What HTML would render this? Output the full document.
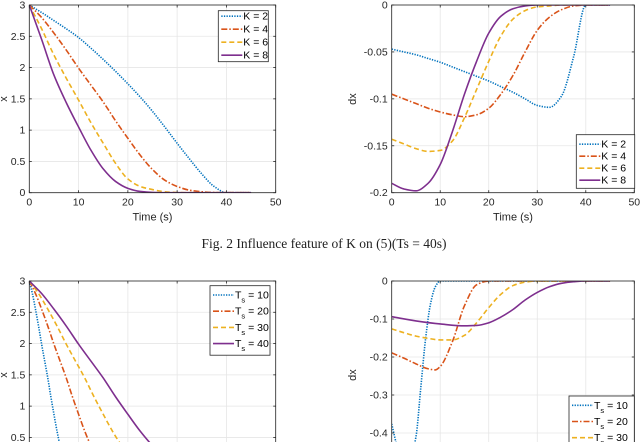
<!DOCTYPE html>
<html><head><meta charset="utf-8"><style>
html,body{margin:0;padding:0;background:#fff;width:640px;height:442px;overflow:hidden;}
svg{display:block;font-family:"Liberation Sans",Arial,sans-serif;overflow:hidden;}
</style></head><body>
<svg id="fig" width="640" height="442" viewBox="0 0 640 442" xmlns="http://www.w3.org/2000/svg">
<text x="324" y="248" text-anchor="middle" font-family="Liberation Serif, serif" font-size="13.5" fill="#222">Fig. 2 Influence feature of K on  (5)(Ts = 40s)</text>
</svg>
<script>
// ---- Data: top-left x(t) for K ----
const tK = [0,2.5,5,7.5,10,12.5,15,17.5,20,22.5,25,27.5,30,32.5,35,37.5,40,42.5,45];
const xK2 = [3,2.88,2.75,2.62,2.48,2.31,2.13,1.94,1.74,1.53,1.3,1.05,0.79,0.54,0.3,0.1,0.0,0,0];
const xK4 = [3,2.8,2.55,2.28,1.99,1.72,1.45,1.15,0.87,0.6,0.37,0.2,0.1,0.04,0.015,0.003,0,0,0];
const xK6 = [3,2.62,2.2,1.83,1.48,1.12,0.79,0.47,0.22,0.1,0.05,0.015,0.003,0,0,0,0,0,0];
const xK8 = [3,2.45,1.88,1.44,1.05,0.68,0.38,0.18,0.07,0.02,0.004,0,0,0,0,0,0,0,0];
// ---- Data: top-right dx(t) for K ----
const dK2 = [-0.047,-0.05,-0.053,-0.057,-0.061,-0.066,-0.071,-0.076,-0.081,-0.087,-0.093,-0.1,-0.107,-0.109,-0.097,-0.055,0,0,0];
const dK4 = [-0.095,-0.1,-0.105,-0.11,-0.114,-0.117,-0.119,-0.117,-0.11,-0.095,-0.075,-0.05,-0.027,-0.013,-0.005,-0.001,0,0,0];
const dK6 = [-0.143,-0.148,-0.153,-0.156,-0.155,-0.145,-0.12,-0.09,-0.06,-0.033,-0.015,-0.006,-0.002,-0.001,0,0,0,0,0];
const dK8 = [-0.19,-0.196,-0.198,-0.19,-0.17,-0.135,-0.095,-0.06,-0.03,-0.012,-0.004,-0.001,0,0,0,0,0,0,0];
// ---- Data: bottom-left x(t) for Ts ----
const tT10 = [0,0.625,1.25,1.875,2.5,3.125,3.75,4.375,5,5.625,6.25,6.875,7.5,8.125,8.75,9.375,10,45];
const xT10 = [3,2.8,2.55,2.28,1.99,1.72,1.45,1.15,0.87,0.6,0.37,0.2,0.1,0.04,0.015,0.003,0,0];
const tT20 = [0,1.25,2.5,3.75,5,6.25,7.5,8.75,10,11.25,12.5,13.75,15,16.25,17.5,18.75,20,45];
const xT20 = [3,2.8,2.55,2.28,1.99,1.72,1.45,1.15,0.87,0.6,0.37,0.2,0.1,0.04,0.015,0.003,0,0];
const tT30 = [0,1.875,3.75,5.625,7.5,9.375,11.25,13.125,15,16.875,18.75,20.625,22.5,24.375,26.25,28.125,30,45];
const xT30 = [3,2.8,2.55,2.28,1.99,1.72,1.45,1.15,0.87,0.6,0.37,0.2,0.1,0.04,0.015,0.003,0,0];
const tT40 = [0,2.5,5,7.5,10,12.5,15,17.5,20,22.5,25,27.5,30,32.5,35,37.5,40,45];
const xT40 = [3,2.8,2.55,2.28,1.99,1.72,1.45,1.15,0.87,0.6,0.37,0.2,0.1,0.04,0.015,0.003,0,0];
// ---- Data: bottom-right dx(t) for Ts ----
const tD10 = [0,1,2,3,4,5,6,7,8,9,10,45];
const dT10 = [-0.376,-0.43,-0.47,-0.48,-0.46,-0.41,-0.28,-0.15,-0.06,-0.015,0,0];
const tD20 = [0,2.5,5,7.5,9,10,12.5,15,17.5,20,45];
const dT20 = [-0.189,-0.203,-0.218,-0.231,-0.234,-0.225,-0.16,-0.065,-0.01,0,0];
const tD30 = [0,2.5,5,7.5,10,12.5,15,17.5,20,22.5,25,27.5,30,45];
const dT30 = [-0.126,-0.136,-0.145,-0.151,-0.155,-0.155,-0.143,-0.11,-0.07,-0.035,-0.012,-0.003,0,0];
const tD40 = [0,5,10,15,17.5,20,22.5,25,27.5,30,32.5,35,37.5,40,45];
const dT40 = [-0.094,-0.105,-0.113,-0.118,-0.117,-0.11,-0.095,-0.075,-0.05,-0.03,-0.015,-0.006,-0.002,0,0];
// ---- Axis ticks ----
const xTicks = [0,10,20,30,40,50];
const yTicksX = [0,0.5,1,1.5,2,2.5,3];
const yTicksTR = [-0.2,-0.15,-0.1,-0.05,0];
const yTicksBR = [-0.4,-0.3,-0.2,-0.1,0];
const yLabelsTR = ['-0.2','-0.15','-0.1','-0.05','0'];
const yLabelsBR = ['-0.4','-0.3','-0.2','-0.1','0'];
const kLabels = ['K = 2','K = 4','K = 6','K = 8'];
const tsLabels = ['10','20','30','40'];

const NS='http://www.w3.org/2000/svg';
const svg=document.getElementById('fig');
const COLORS=['#0072BD','#D95319','#EDB120','#7E2F8E'];
const DASH=['1.3 1.3','6 2 1.5 2','5 3',''];
function mk(tag,attrs,parent){const e=document.createElementNS(NS,tag);for(const k in attrs)e.setAttribute(k,attrs[k]);(parent||svg).appendChild(e);return e;}

// monotone cubic path through pixel points
function monoPath(X,Y){
  const n=X.length;if(n<2)return '';
  const d=[],m=new Array(n);
  for(let i=0;i<n-1;i++)d.push((Y[i+1]-Y[i])/(X[i+1]-X[i]));
  m[0]=d[0];m[n-1]=d[n-2];
  for(let i=1;i<n-1;i++){if(d[i-1]*d[i]<=0)m[i]=0;else{const w1=2*(X[i+1]-X[i])+(X[i]-X[i-1]),w2=(X[i+1]-X[i])+2*(X[i]-X[i-1]);m[i]=(w1+w2)/(w1/d[i-1]+w2/d[i]);}}
  let p='M'+X[0].toFixed(2)+','+Y[0].toFixed(2);
  for(let i=0;i<n-1;i++){const h=(X[i+1]-X[i])/3;
    p+=' C'+(X[i]+h).toFixed(2)+','+(Y[i]+m[i]*h).toFixed(2)+' '+(X[i+1]-h).toFixed(2)+','+(Y[i+1]-m[i+1]*h).toFixed(2)+' '+X[i+1].toFixed(2)+','+Y[i+1].toFixed(2);}
  return p;
}

function plot(cfg){
  const g=mk('g',{});
  
  
  const L=cfg.L,R=cfg.R,T=cfg.T,B=cfg.B;
  const sx=v=>L+(v-0)/(50-0)*(R-L);
  const sy=v=>B-(v-cfg.y0)/(cfg.y1-cfg.y0)*(B-T);
  const cid='clip-'+cfg.name;
  const cp=mk('clipPath',{id:cid},g);mk('rect',{x:L,y:T,width:R-L,height:Math.min(B,442)-T},cp);
  xTicks.forEach(v=>{const l=mk('line',{x1:sx(v),x2:sx(v),y1:T,y2:Math.min(B,442),stroke:'#e6e6e6','stroke-width':0.8},g);
    });
  cfg.yt.forEach(v=>{const l=mk('line',{x1:L,x2:R,y1:sy(v),y2:sy(v),stroke:'#e6e6e6','stroke-width':0.8},g);
    });
  cfg.series.forEach((s,i)=>{
    const X=s.t.map(sx),Y=s.v.map(sy);
    const p=mk('path',{d:monoPath(X,Y),fill:'none',stroke:COLORS[i],'stroke-width':1.6,'stroke-dasharray':DASH[i],'clip-path':'url(#'+cid+')','stroke-linejoin':'round'},g);
    
    
  });
  const fr=mk('rect',{x:L,y:T,width:R-L,height:B-T,fill:'none',stroke:'#262626','stroke-width':0.8},g);
  
  xTicks.forEach(v=>{mk('line',{x1:sx(v),x2:sx(v),y1:B,y2:B-2.5,stroke:'#262626','stroke-width':0.8},g);mk('line',{x1:sx(v),x2:sx(v),y1:T,y2:T+2.5,stroke:'#262626','stroke-width':0.8},g);});
  cfg.yt.forEach(v=>{mk('line',{x1:L,x2:L+2.5,y1:sy(v),y2:sy(v),stroke:'#262626','stroke-width':0.8},g);mk('line',{x1:R,x2:R-2.5,y1:sy(v),y2:sy(v),stroke:'#262626','stroke-width':0.8},g);});
  if(B<442){xTicks.forEach(v=>{const t=mk('text',{x:sx(v),y:B+13,'text-anchor':'middle','font-size':10.5,fill:'#262626'},g);t.textContent=v;
    });
    const xl=mk('text',{x:(L+R)/2,y:B+28,'text-anchor':'middle','font-size':11,fill:'#262626'},g);xl.textContent='Time (s)';
    }
  cfg.yt.forEach((v,j)=>{if(sy(v)>445)return;const t=mk('text',{x:L-4,y:sy(v)+3.5,'text-anchor':'end','font-size':10.5,fill:'#262626'},g);t.textContent=cfg.yl[j];
    });
  const yl=mk('text',{x:cfg.ylx,y:T+94,'text-anchor':'middle','font-size':11,fill:'#262626',transform:'rotate(-90 '+cfg.ylx+' '+(T+94)+')'},g);yl.textContent=cfg.ytitle;
  
  const lg=cfg.leg;
  const lgG=mk('g',{},g);
  mk('rect',{x:lg.x,y:lg.y,width:lg.w,height:Math.min(lg.h,442-lg.y+2),fill:'#fff',stroke:'#262626','stroke-width':0.8},lgG);
  cfg.series.forEach((s,i)=>{
    const yy=lg.y+lg.first+i*lg.step;
    if(yy>450)return;
    const e=mk('g',{},lgG);
    
    
    mk('line',{x1:lg.x+3,x2:lg.x+24,y1:yy,y2:yy,stroke:COLORS[i],'stroke-width':1.6,'stroke-dasharray':DASH[i]},e);
    const t=mk('text',{x:lg.x+25,y:yy+3.5,'font-size':10.5,fill:'#000'},e);
    if(lg.ts){t.textContent='T';const sub=mk('tspan',{dy:4,'font-size':7.5},t);sub.textContent='s';const r=mk('tspan',{dy:-4},t);r.textContent=' = '+tsLabels[i];}
    else t.textContent=kLabels[i];
  });
}
plot({name:'plot-x-vs-k',L:29.3,R:275.7,T:5,B:192.7,y0:0,y1:3,yt:yTicksX,yl:yTicksX.map(String),ytitle:'x',ylx:7,
  series:[{id:'k2',t:tK,v:xK2},{id:'k4',t:tK,v:xK4},{id:'k6',t:tK,v:xK6},{id:'k8',t:tK,v:xK8}],
  leg:{x:218.3,y:10.7,w:50,h:51,first:5.5,step:13}});
plot({name:'plot-dx-vs-k',L:391.7,R:634.3,T:5,B:192.7,y0:-0.2,y1:0,yt:yTicksTR,yl:yLabelsTR,ytitle:'dx',ylx:356,
  series:[{id:'k2',t:tK,v:dK2},{id:'k4',t:tK,v:dK4},{id:'k6',t:tK,v:dK6},{id:'k8',t:tK,v:dK8}],
  leg:{x:576.3,y:134.7,w:58.4,h:53.6,first:9.5,step:12}});
plot({name:'plot-x-vs-ts',L:29.3,R:275.7,T:281,B:468.7,y0:0,y1:3,yt:yTicksX,yl:yTicksX.map(String),ytitle:'x',ylx:7,
  series:[{id:'ts10',t:tT10,v:xT10},{id:'ts20',t:tT20,v:xT20},{id:'ts30',t:tT30,v:xT30},{id:'ts40',t:tT40,v:xT40}],
  leg:{x:210,y:285.7,w:60,h:69.5,first:9.3,step:16.2,ts:true}});
plot({name:'plot-dx-vs-ts',L:391.7,R:634.3,T:281,B:471,y0:-0.5,y1:0,yt:yTicksBR,yl:yLabelsBR,ytitle:'dx',ylx:356,
  series:[{id:'ts10',t:tD10,v:dT10},{id:'ts20',t:tD20,v:dT20},{id:'ts30',t:tD30,v:dT30},{id:'ts40',t:tD40,v:dT40}],
  leg:{x:569,y:396,w:65.3,h:69.5,first:9.3,step:16.2,ts:true}});
</script>
</body></html>
